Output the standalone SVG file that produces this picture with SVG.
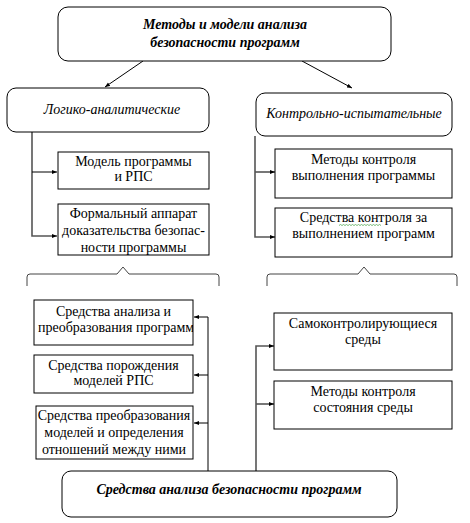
<svg xmlns="http://www.w3.org/2000/svg" width="470" height="523" viewBox="0 0 470 523">
<style>
.box{fill:#fff;stroke:#000;stroke-width:1}
.t{font-family:'Liberation Serif','Times New Roman',serif;font-size:14px;fill:#000;text-anchor:middle}
.bi{font-style:italic;font-weight:bold}
.it{font-style:italic;font-size:14px}
.ln{fill:none;stroke:#555;stroke-width:1.6}
.thin{fill:none;stroke:#000;stroke-width:1}
.brace{fill:none;stroke:#444;stroke-width:1}
</style>
<defs>
<marker id="ah" viewBox="0 0 10 10" refX="10" refY="5" markerWidth="5" markerHeight="5" orient="auto" markerUnits="userSpaceOnUse">
<path d="M0,1 L10,5 L0,9 z" fill="#000"/>
</marker>
<clipPath id="c1"><rect x="34" y="300" width="159" height="45"/></clipPath>
</defs>
<rect width="470" height="523" fill="#fff"/>
<g id="connectors">
<line class="thin" x1="143" y1="61" x2="105" y2="87" marker-end="url(#ah)"/>
<line class="thin" x1="302" y1="61" x2="352" y2="88" marker-end="url(#ah)"/>
<polyline class="ln" points="32,132 32,236 57,236" marker-end="url(#ah)"/>
<line class="thin" x1="32" y1="172" x2="57" y2="172" marker-end="url(#ah)"/>
<polyline class="ln" points="255,136 255,237 275,237" marker-end="url(#ah)"/>
<line class="ln" x1="255" y1="172" x2="275" y2="172" marker-end="url(#ah)"/>
<polyline class="thin" points="208,471 208,317 194,317" marker-end="url(#ah)"/>
<line class="thin" x1="208" y1="375" x2="194" y2="375" marker-end="url(#ah)"/>
<line class="thin" x1="208" y1="423" x2="194" y2="423" marker-end="url(#ah)"/>
<polyline class="ln" points="256,471 256,346 274,346" marker-end="url(#ah)"/>
<line class="ln" x1="256" y1="404" x2="274" y2="404" marker-end="url(#ah)"/>
</g>
<g id="brace-left"><path class="brace" d="M27,286 V277 Q27,274 30,274 H117 L123,267 L129,274 H216 Q219,274 219,277 V286"/></g>
<g id="brace-right"><path class="brace" d="M267,286 V277 Q267,274 270,274 H358 L364,267 L370,274 H454 Q457,274 457,277 V286"/></g>
<g id="n-top">
<rect class="box" x="58" y="7" width="333" height="54" rx="10"/>
<text class="t bi" font-family="Liberation Serif" x="225" y="29">Методы и модели анализа</text>
<text class="t bi" font-family="Liberation Serif" x="225" y="47">безопасности программ</text>
</g>
<g id="n-logic">
<rect class="box" x="7" y="88" width="202" height="44" rx="9"/>
<text class="t it" font-family="Liberation Serif" x="112" y="114">Логико-аналитические</text>
</g>
<g id="n-control">
<rect class="box" x="256" y="93" width="196" height="43" rx="9"/>
<text class="t it" font-family="Liberation Serif" x="354" y="118">Контрольно-испытательные</text>
</g>
<g id="n-model">
<rect class="box" x="58" y="152" width="151" height="37"/>
<text class="t" font-family="Liberation Serif" x="133.5" y="166">Модель программы</text>
<text class="t" font-family="Liberation Serif" x="133.5" y="181">и РПС</text>
</g>
<g id="n-formal">
<rect class="box" x="58" y="204" width="151" height="51"/>
<text class="t" font-family="Liberation Serif" x="133.5" y="218">Формальный аппарат</text>
<text class="t" font-family="Liberation Serif" x="133.5" y="235">доказательства безопас-</text>
<text class="t" font-family="Liberation Serif" x="133.5" y="252">ности программы</text>
</g>
<g id="n-exec-methods">
<rect class="box" x="275" y="149" width="177" height="49"/>
<text class="t" font-family="Liberation Serif" x="363.5" y="164">Методы контроля</text>
<text class="t" font-family="Liberation Serif" x="363.5" y="180">выполнения программы</text>
</g>
<g id="n-exec-tools">
<rect class="box" x="275" y="208" width="177" height="49"/>
<text class="t" font-family="Liberation Serif" x="363.5" y="222">Средства контроля за</text>
<text class="t" font-family="Liberation Serif" x="363.5" y="238">выполнением программ</text>
<path d="M339,225.5 l1.5,-1 1.5,1 1.5,-1 1.5,1 1.5,-1 1.5,1 1.5,-1 1.5,1 1.5,-1 1.5,1 1.5,-1 1.5,1 1.5,-1 1.5,1 1.5,-1 1.5,1 1.5,-1 1.5,1 1.5,-1 1.5,1 1.5,-1 1.5,1 1.5,-1 1.5,1 1.5,-1 1.5,1 1.5,-1 1.5,1" fill="none" stroke="#5a5" stroke-width="0.8"/>
</g>
<g id="n-analysis">
<rect class="box" x="34" y="300" width="159" height="45"/>
<text class="t" font-family="Liberation Serif" x="113.5" y="316">Средства анализа и</text>
<text class="t" font-family="Liberation Serif" x="38" y="332" style="text-anchor:start" clip-path="url(#c1)">преобразования программ</text>
</g>
<g id="n-gen">
<rect class="box" x="34" y="355" width="159" height="38"/>
<text class="t" font-family="Liberation Serif" x="113.5" y="370">Средства порождения</text>
<text class="t" font-family="Liberation Serif" x="113.5" y="385">моделей РПС</text>
</g>
<g id="n-transform">
<rect class="box" x="36" y="406" width="157" height="53"/>
<text class="t" font-family="Liberation Serif" x="114" y="420">Средства преобразования</text>
<text class="t" font-family="Liberation Serif" x="114" y="437">моделей и определения</text>
<text class="t" font-family="Liberation Serif" x="114" y="454">отношений между ними</text>
</g>
<g id="n-selfcontrol">
<rect class="box" x="274" y="313" width="178" height="57"/>
<text class="t" font-family="Liberation Serif" x="363" y="328">Самоконтролирующиеся</text>
<text class="t" font-family="Liberation Serif" x="363" y="344">среды</text>
</g>
<g id="n-env">
<rect class="box" x="274" y="381" width="178" height="48"/>
<text class="t" font-family="Liberation Serif" x="363" y="396">Методы контроля</text>
<text class="t" font-family="Liberation Serif" x="363" y="412">состояния среды</text>
</g>
<g id="n-bottom">
<rect class="box" x="62" y="471" width="335" height="46" rx="9"/>
<text class="t bi" font-family="Liberation Serif" x="229" y="494">Средства анализа безопасности программ</text>
</g>
</svg>
